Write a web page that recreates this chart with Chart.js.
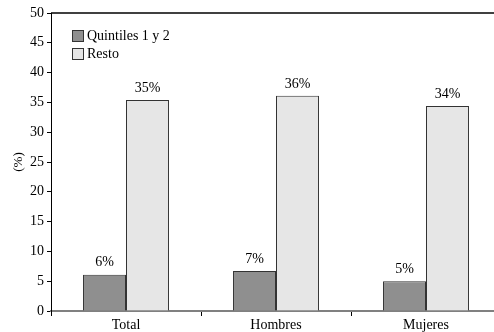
<!DOCTYPE html>
<html>
<head>
<meta charset="utf-8">
<script src="https://cdn.jsdelivr.net/npm/chart.js@4/dist/chart.umd.min.js"></script>
<style>
  html, body { margin: 0; padding: 0; background: #fff; overflow: hidden; }
  #wrap { width: 502px; height: 332px; }
</style>
</head>
<body>
<div id="wrap"><canvas id="grafico" width="502" height="332"></canvas></div>
<script>
let categorias = ['Total', 'Hombres', 'Mujeres'];
let quintiles = [6.1, 6.7, 5.0]; // Quintiles 1 y 2
let resto = [35.4, 36.1, 34.4];   // Resto
let ticksY = [0, 5, 10, 15, 20, 25, 30, 35, 40, 45, 50];

let fuente = "'Liberation Serif', 'DejaVu Serif', serif";

// leyenda dentro del área del gráfico, arriba a la izquierda
let leyenda = {
  id: 'leyenda',
  afterDraw(chart) {
    let ctx = chart.ctx;
    ctx.save();
    ctx.font = '14px ' + fuente;
    ctx.textBaseline = 'middle';
    chart.data.datasets.forEach((ds, i) => {
      let y = 30 + i * 18;
      ctx.fillStyle = ds.backgroundColor;
      ctx.fillRect(72, y, 11, 11);
      ctx.strokeStyle = '#333';
      ctx.lineWidth = 1;
      ctx.strokeRect(72.5, y + 0.5, 11, 11);
      ctx.fillStyle = '#000';
      ctx.fillText(ds.label, 87, y + 6);
    });
    ctx.restore();
  }
};

// porcentajes sobre cada barra
let etiquetas = {
  id: 'etiquetas',
  afterDatasetsDraw(chart) {
    let ctx = chart.ctx;
    ctx.save();
    ctx.font = '14px ' + fuente;
    ctx.fillStyle = '#000';
    ctx.textAlign = 'center';
    ctx.textBaseline = 'middle';
    chart.data.datasets.forEach((ds, i) => {
      chart.getDatasetMeta(i).data.forEach((bar, j) => {
        ctx.fillText(Math.round(ds.data[j]) + '%', bar.x, bar.y - 12);
      });
    });
    // línea superior del marco
    let a = chart.chartArea;
    ctx.strokeStyle = '#000';
    ctx.lineWidth = 1.5;
    ctx.beginPath();
    ctx.moveTo(a.left, a.top);
    ctx.lineTo(a.right, a.top);
    ctx.stroke();
    ctx.restore();
  }
};

new Chart(document.getElementById('grafico'), {
  type: 'bar',
  data: {
    labels: categorias,
    datasets: [
      {
        label: 'Quintiles 1 y 2',
        data: quintiles,
        backgroundColor: '#8f8f8f',
        borderColor: '#333',
        borderWidth: 1,
        borderSkipped: 'bottom'
      },
      {
        label: 'Resto',
        data: resto,
        backgroundColor: '#e6e6e6',
        borderColor: '#333',
        borderWidth: 1,
        borderSkipped: 'bottom'
      }
    ]
  },
  options: {
    responsive: false,
    animation: false,
    layout: { padding: { top: 13, right: 1, left: 0, bottom: 0 } },
    datasets: { bar: { barPercentage: 1, categoryPercentage: 0.573 } },
    plugins: { legend: { display: false }, tooltip: { enabled: false } },
    scales: {
      x: {
        afterFit: s => { s.height = 21; },
        grid: { offset: true, drawOnChartArea: false, tickLength: 5, color: '#000' },
        border: { color: '#808080', width: 2 },
        ticks: { color: '#000', font: { family: fuente, size: 14 }, padding: 1 }
      },
      y: {
        min: 0,
        max: 50,
        afterFit: s => { s.width = 51; },
        afterBuildTicks: s => { s.ticks = ticksY.map(v => ({ value: v })); },
        grid: { drawOnChartArea: false, tickLength: 4, color: '#000' },
        border: { color: '#000', width: 1 },
        ticks: { color: '#000', font: { family: fuente, size: 14 }, padding: 3 },
        title: { display: true, text: '(%)', color: '#000', font: { family: fuente, size: 13 }, padding: { top: 11, bottom: 0 } }
      }
    }
  },
  plugins: [leyenda, etiquetas]
});
</script>
</body>
</html>
